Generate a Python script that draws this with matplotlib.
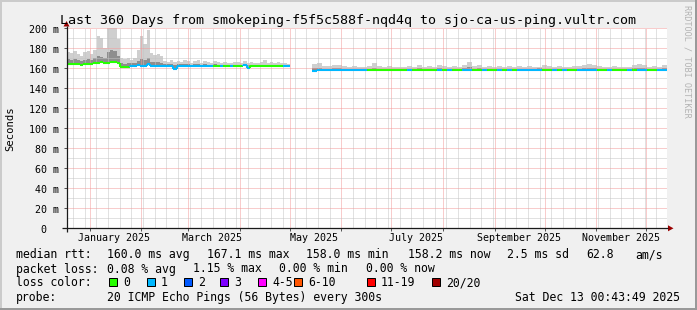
"""SmokePing style latency chart: 360 days of median rtt with smoke and loss colours."""

import datetime as dt

import matplotlib
import matplotlib.dates as mdates
import matplotlib.pyplot as plt
import numpy as np
from matplotlib.collections import LineCollection
from matplotlib.patches import Polygon, Rectangle
from matplotlib.ticker import MultipleLocator
from matplotlib.transforms import blended_transform_factory

matplotlib.use("Agg")

W, H, DPI = 697, 310, 100
MONO = "DejaVu Sans Mono"

START = dt.datetime(2024, 12, 18, 0, 43, 49)
END = dt.datetime(2025, 12, 13, 0, 43, 49)

TITLE = "Last 360 Days from smokeping-f5f5c588f-nqd4q to sjo-ca-us-ping.vultr.com"

# first block of measurements (days since START, 2 day steps), ends at day 134
seg1_days = list(range(0, 133, 2))
seg1_end = 134
seg1_median = [
    164.5, 164.0, 164.5, 164.0, 163.5, 164.5, 164.0, 164.5, 165.0, 165.5,
    166.0, 165.0, 165.5, 166.5, 166.0, 165.0, 161.5, 161.0, 161.5, 162.0,
    162.0, 163.0, 162.5, 162.0, 164.5, 162.0, 162.5, 162.0, 162.0, 162.0,
    162.0, 162.0, 159.5, 162.0, 162.0, 162.0, 162.0, 162.0, 162.0, 162.0,
    162.0, 162.0, 162.0, 162.0, 162.0, 162.0, 162.0, 162.0, 162.0, 162.0,
    162.0, 162.0, 162.0, 163.5, 160.5, 162.0, 162.0, 162.0, 162.0, 162.0,
    162.0, 162.0, 162.0, 162.0, 162.0, 162.0, 162.0,
]
seg1_mid = [
    169, 168, 169, 168, 167, 168, 169, 168, 170, 172,
    171, 170, 176, 178, 177, 172, 165, 164, 165, 165,
    165, 167, 169, 168, 170, 166, 166, 166, 165, 164,
    164, 164, 163, 164, 164, 164, 164, 163, 164, 164,
    163, 164, 163, 163, 164, 163, 163, 163, 163, 163,
    163, 163, 163, 164, 163, 163, 163, 163, 163, 163,
    163, 163, 163, 163, 163, 163, 163,
]
seg1_hi = [
    176, 175, 177, 174, 172, 176, 177, 174, 178, 192,
    190, 180, 200, 200, 200, 189, 170, 169, 170, 168,
    170, 178, 192, 184, 198, 175, 173, 174, 172, 167,
    166, 168, 166, 167, 166, 168, 167, 165, 167, 168,
    165, 167, 166, 165, 167, 166, 165, 166, 165, 165,
    166, 166, 165, 167, 165, 166, 165, 165, 166, 168,
    165, 166, 165, 166, 165, 165, 164,
]
seg1_loss = [
    0, 0, 0, 0, 0, 0, 0, 0, 0, 0,
    0, 0, 0, 0, 0, 0, 0, 0, 0, 1,
    1, 1, 1, 1, 1, 1, 1, 1, 1, 1,
    1, 1, 1, 1, 1, 1, 1, 1, 1, 1,
    1, 1, 1, 1, 0, 0, 1, 0, 0, 1,
    0, 0, 0, 1, 1, 0, 0, 0, 0, 0,
    0, 0, 0, 0, 0, 1, 1,
]

# second block (3 day steps) after the outage, runs to the end of the graph
seg2_days = list(range(147, 358, 3))
seg2_end = 360
seg2_median = [
    157.8, 158.0, 158.0, 158.0, 158.0, 158.0, 158.0, 158.0, 158.0, 158.0,
    158.0, 158.0, 158.0, 158.0, 158.0, 158.0, 158.0, 158.0, 158.0, 158.0,
    158.0, 158.0, 158.0, 158.0, 158.0, 158.0, 158.0, 158.0, 158.0, 158.0,
    158.0, 158.0, 158.0, 158.0, 158.0, 158.0, 158.0, 158.0, 158.0, 158.0,
    158.0, 158.0, 158.0, 158.0, 158.0, 158.0, 158.0, 158.0, 158.0, 158.0,
    158.0, 158.0, 158.0, 158.0, 158.0, 158.0, 158.0, 158.0, 158.0, 158.0,
    158.0, 158.0, 158.0, 158.0, 158.0, 158.0, 158.0, 158.0, 158.0, 158.0,
    158.2,
]
seg2_mid = [
    160, 160, 159.5, 159.5, 160, 160, 159.5, 159.5, 159.5, 159.5,
    159.5, 159.5, 160, 159.5, 159.5, 159.5, 159.5, 159.5, 159.5, 159.5,
    159.5, 160, 159.5, 159.5, 159.5, 160, 159.5, 159.5, 159.5, 159.5,
    160, 161, 159.5, 160, 159.5, 159.5, 159.5, 159.5, 159.5, 159.5,
    159.5, 159.5, 159.5, 159.5, 159.5, 160, 159.5, 159.5, 159.5, 159.5,
    159.5, 159.5, 159.5, 159.5, 160, 160, 160, 159.5, 159.5, 159.5,
    159.5, 159.5, 159.5, 159.5, 160, 160, 160, 159.5, 159.5, 159.5,
    160,
]
seg2_hi = [
    164, 165, 162, 162, 163, 163, 162, 161, 162, 161,
    161, 162, 165, 162, 161, 162, 161, 161, 161, 162,
    161, 163, 161, 162, 161, 163, 162, 161, 162, 161,
    163, 166, 162, 163, 161, 162, 161, 162, 161, 162,
    161, 162, 161, 162, 161, 161, 163, 162, 161, 162,
    161, 161, 162, 162, 163, 164, 163, 162, 161, 161,
    162, 161, 161, 161, 163, 164, 163, 161, 162, 161,
    163,
]
seg2_loss = [
    1, 1, 1, 1, 1, 1, 1, 1, 1, 1,
    1, 0, 0, 0, 0, 0, 0, 0, 0, 1,
    0, 0, 0, 0, 0, 1, 0, 1, 0, 0,
    1, 1, 0, 0, 1, 0, 0, 1, 0, 1,
    0, 1, 1, 1, 1, 1, 0, 0, 1, 0,
    1, 0, 0, 1, 1, 1, 1, 0, 0, 1,
    0, 0, 0, 1, 0, 1, 1, 0, 0, 1,
    1,
]

Y_TICKS = [0, 20, 40, 60, 80, 100, 120, 140, 160, 180, 200]
Y_LABELS = ["0  ", "20 m", "40 m", "60 m", "80 m", "100 m", "120 m", "140 m",
            "160 m", "180 m", "200 m"]
X_LABEL_DATES = [dt.datetime(2025, m, 15, 12) for m in (1, 3, 5, 7, 9, 11)]
X_LABELS = ["January 2025", "March 2025", "May 2025", "July 2025",
            "September 2025", "November 2025"]

LOSS_NAMES = ["0", "1", "2", "3", "4-5", "6-10", "11-19", "20/20"]
LOSS_COLORS = ["#26ff00", "#00b8ff", "#0059ff", "#7e00ff",
               "#ff00ff", "#ff5500", "#ff0000", "#a00000"]

LEGEND_RTT = [("median rtt:", 16), ("160.0 ms avg", 107), ("167.1 ms max", 207),
              ("158.0 ms min", 306), ("158.2 ms now", 407.7), ("2.5 ms sd", 507.3),
              ("62.8", 586.7), ("am/s", 635.7)]
LEGEND_LOSS = [("packet loss:", 16), ("0.08 % avg", 107), ("1.15 % max", 192.7),
               ("0.00 % min", 279.3), ("0.00 % now", 365.7)]
LOSS_BOX_X = [108, 146, 183, 219, 257, 293, 366, 431]
PROBE_TEXT = "20 ICMP Echo Pings (56 Bytes) every 300s"
STAMP_TEXT = "Sat Dec 13 00:43:49 2025"

BACK = "#f0f0f0"
SHADE_A = "#cbcbcb"
SHADE_B = "#999999"
GRID = "#c4c4c4"
MGRID = "#f29a9a"
AXIS = "#1a1a1a"
ARROW = "#9a0000"
SMOKE_LIGHT = "#cfcfcf"
SMOKE_DARK = "#8e8e8e"
MEDIAN_LW = 1.5

PLOT_LEFT, PLOT_W = 66.5, 600
PLOT_BOTTOM, PLOT_H = 228.3, 200


def _draw_segment(ax, days, end_day, median, mid, hi, loss):
    """Smoke bands plus a loss-coloured median, stepped like rrdtool."""
    x = mdates.date2num(START) + np.append(np.array(days, float), end_day)
    med = np.append(median, median[-1])
    ax.fill_between(x, med, np.append(hi, hi[-1]), step="post",
                    color=SMOKE_LIGHT, lw=0, zorder=1)
    ax.fill_between(x, med, np.append(mid, mid[-1]), step="post",
                    color=SMOKE_DARK, lw=0, zorder=2)

    segs, cols = [], []
    for i in range(len(days)):
        segs.append([(x[i], median[i]), (x[i + 1], median[i])])
        cols.append(LOSS_COLORS[loss[i]])
        if i > 0 and median[i] != median[i - 1]:
            segs.append([(x[i], median[i - 1]), (x[i], median[i])])
            cols.append(LOSS_COLORS[loss[i]])
    ax.add_collection(LineCollection(segs, colors=cols, linewidths=MEDIAN_LW,
                                     capstyle="butt", zorder=4))


fig = plt.figure(figsize=(W / DPI, H / DPI), dpi=DPI, facecolor=BACK)

ax = fig.add_axes([PLOT_LEFT / W, (H - PLOT_BOTTOM) / H, PLOT_W / W, PLOT_H / H])
ax.set_facecolor("white")
ax.set_xlim(mdates.date2num(START), mdates.date2num(END))
ax.set_ylim(0, 200)
for sp in ax.spines.values():
    sp.set_visible(False)

ax.xaxis.set_major_locator(mdates.MonthLocator())
ax.xaxis.set_minor_locator(mdates.WeekdayLocator(byweekday=mdates.SU))
ax.yaxis.set_major_locator(MultipleLocator(20))
ax.yaxis.set_minor_locator(MultipleLocator(10))
ax.set_axisbelow(False)
ax.grid(which="major", color=MGRID, lw=0.72, ls=(0, (1, 1)), snap=True)
ax.grid(which="minor", color=GRID, lw=0.72, ls=(0, (1, 1)), snap=True)
ax.tick_params(which="major", direction="out", length=2.2, width=0.72,
               color="#555555", labelbottom=False, labelleft=False)
ax.tick_params(which="minor", length=0, labelbottom=False, labelleft=False)

_draw_segment(ax, seg1_days, seg1_end, seg1_median, seg1_mid, seg1_hi, seg1_loss)
_draw_segment(ax, seg2_days, seg2_end, seg2_median, seg2_mid, seg2_hi, seg2_loss)

# overlay in pixel coordinates for frame, axes, arrows and legend
ov = fig.add_axes([0, 0, 1, 1], zorder=5)
ov.set_xlim(0, W)
ov.set_ylim(H, 0)
ov.axis("off")

ov.add_patch(Rectangle((0, 0), W, 2, color=SHADE_A, lw=0))
ov.add_patch(Rectangle((0, 0), 2, H, color=SHADE_A, lw=0))
ov.add_patch(Rectangle((0, H - 2), W, 2, color=SHADE_B, lw=0))
ov.add_patch(Rectangle((W - 2, 0), 2, H, color=SHADE_B, lw=0))

ov.plot([PLOT_LEFT, PLOT_LEFT], [PLOT_BOTTOM + 4, 26], color=AXIS, lw=0.9,
        solid_capstyle="butt")
ov.plot([62, 668], [PLOT_BOTTOM, PLOT_BOTTOM], color=AXIS, lw=0.9,
        solid_capstyle="butt")
ov.add_patch(Polygon([(PLOT_LEFT - 3, 26.5), (PLOT_LEFT + 3, 26.5), (PLOT_LEFT, 21)],
                     closed=True, color=ARROW, lw=0))
ov.add_patch(Polygon([(668, PLOT_BOTTOM - 3), (668, PLOT_BOTTOM + 3), (673.5, PLOT_BOTTOM)],
                     closed=True, color=ARROW, lw=0))

ov.text(348.5, 24, TITLE, ha="center", va="baseline", fontsize=9.6, family=MONO)

ylab_tr = blended_transform_factory(ov.transData, ax.transData)
for v, lab in zip(Y_TICKS, Y_LABELS):
    ax.text(59, v - 1.3, lab, transform=ylab_tr, ha="right", va="center",
            fontsize=7.2, family=MONO, clip_on=False)

xlab_tr = blended_transform_factory(ax.transData, ov.transData)
for d, lab in zip(X_LABEL_DATES, X_LABELS):
    ax.text(mdates.date2num(d), 240.7, lab, transform=xlab_tr, ha="center",
            va="baseline", fontsize=7.2, family=MONO, clip_on=False)

ov.text(10, 128.3, "Seconds", rotation=90, ha="center", va="center",
        fontsize=7.6, family=MONO)
ov.text(687, 61, "RRDTOOL / TOBI OETIKER", rotation=270, ha="center",
        va="center", fontsize=6.1, family=MONO, color="#b3b3b3")

rows_y = [258.3, 272.5, 286.5, 300.7]
for txt, x in LEGEND_RTT:
    ov.text(x, rows_y[0], txt, ha="left", va="baseline", fontsize=8.3, family=MONO)
for txt, x in LEGEND_LOSS:
    ov.text(x, rows_y[1], txt, ha="left", va="baseline", fontsize=8.3, family=MONO)
ov.text(16, rows_y[2], "loss color:", ha="left", va="baseline", fontsize=8.3, family=MONO)
for bx, name, col in zip(LOSS_BOX_X, LOSS_NAMES, LOSS_COLORS):
    ov.add_patch(Rectangle((bx + 0.5, 277.5), 8, 8, facecolor=col,
                           edgecolor="black", lw=0.72))
    ov.text(bx + 15, rows_y[2], name, ha="left", va="baseline", fontsize=8.3, family=MONO)
ov.text(16, rows_y[3], "probe:", ha="left", va="baseline", fontsize=8.3, family=MONO)
ov.text(107, rows_y[3], PROBE_TEXT, ha="left", va="baseline", fontsize=8.3, family=MONO)
ov.text(680, rows_y[3], STAMP_TEXT, ha="right", va="baseline", fontsize=8.3, family=MONO)

fig.savefig("out.png", dpi=DPI, facecolor=BACK)
plt.close(fig)
